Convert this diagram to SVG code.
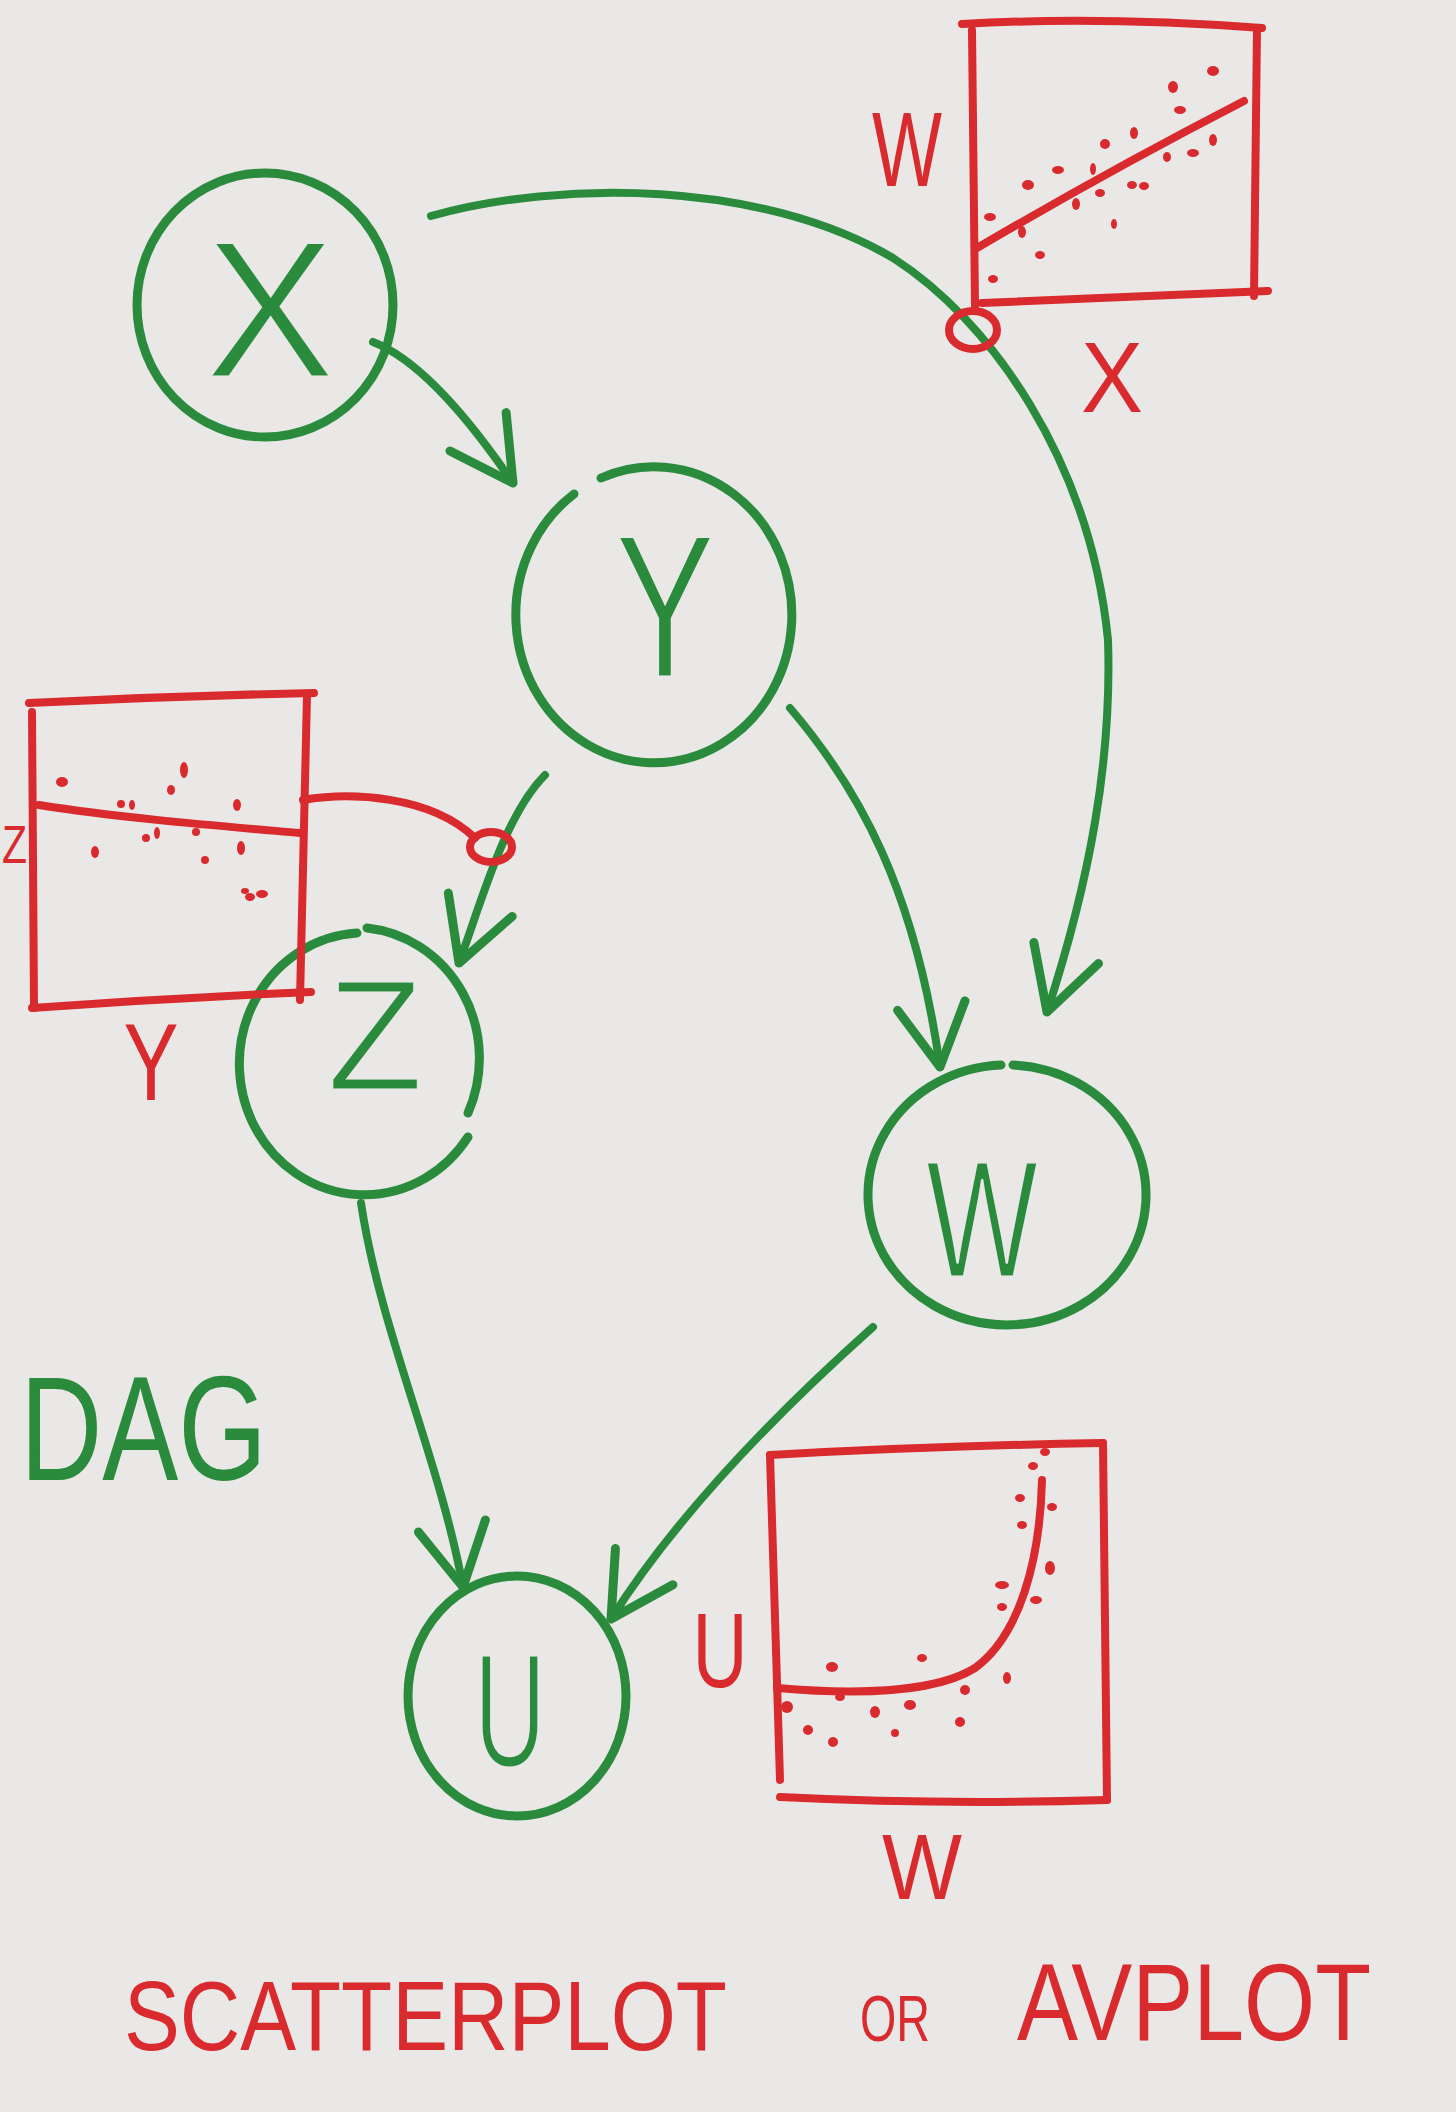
<svg xmlns="http://www.w3.org/2000/svg" width="1456" height="2112" viewBox="0 0 1456 2112">
<defs>
<style>
.g{fill:none;stroke:#2a8b3d;stroke-width:9;stroke-linecap:round;stroke-linejoin:round}
.gt{fill:#2a8b3d;stroke:#eae8e7;stroke-width:3;font-family:"Liberation Sans",Arial,sans-serif;text-anchor:middle}
.r{fill:none;stroke:#d92a2e;stroke-width:8;stroke-linecap:round;stroke-linejoin:round}
.rt{fill:#d92a2e;font-family:"Liberation Sans",Arial,sans-serif}
.d{fill:#d92a2e}
.c{fill:none;stroke:#2a8b3d;stroke-width:8;stroke-linecap:round}
</style>
<marker id="ah" markerUnits="userSpaceOnUse" markerWidth="160" markerHeight="160" refX="80" refY="80" orient="auto" viewBox="0 0 160 160" overflow="visible">
<path d="M18,46 L80,80 L18,114" fill="none" stroke="#2a8b3d" stroke-width="9" stroke-linecap="round" stroke-linejoin="round"/>
</marker>
</defs>
<rect width="1456" height="2112" fill="#eae8e7"/>

<g id="connectors">
<path class="c" d="M373,342 C420,360 470,420 513,483" marker-end="url(#ah)"/>
<path class="c" stroke-width="6" d="M431,216 C560,180 760,180 893,258 C990,320 1090,460 1108,640 C1112,760 1090,880 1047,1012" marker-end="url(#ah)"/>
<path class="c" d="M790,708 C860,790 915,890 940,1067" marker-end="url(#ah)"/>
<path class="c" d="M545,775 C505,815 482,900 459,963" marker-end="url(#ah)"/>
<path class="c" d="M361,1203 C380,1330 440,1460 463,1587" marker-end="url(#ah)"/>
<path class="c" d="M873,1327 C780,1410 680,1510 611,1619" marker-end="url(#ah)"/>
</g>

<g id="node-X">
<ellipse class="g" cx="265" cy="305" rx="128" ry="132"/>
<text class="gt" x="270" y="377" font-size="195">X</text>
</g>
<g id="node-Y">
<path class="g" d="M601,478 A138,148 0 1 1 574,494"/>
<text class="gt" x="665" y="677" font-size="205" textLength="100" lengthAdjust="spacingAndGlyphs">Y</text>
</g>
<g id="node-Z">
<path class="g" d="M367,928 A125,131 0 0 1 468,1113"/>
<path class="g" d="M468,1137 A125,131 0 1 1 357,933"/>
<text class="gt" x="375" y="1090" font-size="158">Z</text>
</g>
<g id="node-W">
<path class="g" d="M1013,1065 A139,130 0 1 1 1001,1065"/>
<text class="gt" x="982" y="1277" font-size="167" textLength="112" lengthAdjust="spacingAndGlyphs">W</text>
</g>
<g id="node-U">
<ellipse class="g" cx="517" cy="1696" rx="109" ry="120"/>
<text class="gt" x="510" y="1766" font-size="162" textLength="72" lengthAdjust="spacingAndGlyphs">U</text>
</g>

<g id="plot-WX">
<path class="r" d="M962,24 Q1100,16 1262,28"/>
<path class="r" d="M1257,28 L1254,296"/>
<path class="r" d="M982,303 Q1100,298 1268,291"/>
<path class="r" d="M972,30 L975,306"/>
<ellipse class="r" cx="973" cy="330" rx="24" ry="19"/>
<path class="r" d="M977,248 Q1110,170 1244,101"/>
<g class="d">
<ellipse cx="1213" cy="71" rx="6" ry="5"/><ellipse cx="1173" cy="87" rx="5" ry="6"/><ellipse cx="1180" cy="110" rx="6" ry="4"/>
<ellipse cx="1134" cy="133" rx="4" ry="6"/><ellipse cx="1105" cy="144" rx="5" ry="5"/><ellipse cx="1213" cy="140" rx="4" ry="6"/>
<ellipse cx="1193" cy="153" rx="6" ry="4"/><ellipse cx="1167" cy="157" rx="4" ry="5"/><ellipse cx="1058" cy="170" rx="6" ry="4"/>
<ellipse cx="1028" cy="185" rx="6" ry="5"/><ellipse cx="1132" cy="185" rx="5" ry="4"/><ellipse cx="1144" cy="186" rx="5" ry="4"/>
<ellipse cx="1100" cy="193" rx="5" ry="4"/><ellipse cx="1076" cy="204" rx="4" ry="6"/><ellipse cx="990" cy="217" rx="6" ry="4"/>
<ellipse cx="1022" cy="232" rx="4" ry="6"/><ellipse cx="1114" cy="224" rx="3" ry="5"/><ellipse cx="1040" cy="255" rx="5" ry="4"/>
<ellipse cx="993" cy="279" rx="5" ry="4"/><ellipse cx="1093" cy="169" rx="3" ry="6"/>
</g>
<text class="rt" x="907" y="186" font-size="105" text-anchor="middle" textLength="70" lengthAdjust="spacingAndGlyphs">W</text>
<text class="rt" x="1112" y="412" font-size="100" text-anchor="middle" textLength="62" lengthAdjust="spacingAndGlyphs">X</text>
</g>

<g id="plot-ZY">
<path class="r" d="M29,703 Q170,696 314,693"/>
<path class="r" d="M307,695 L300,1000"/>
<path class="r" d="M32,1008 Q170,998 311,992"/>
<path class="r" d="M32,712 L34,1008"/>
<path class="r" d="M39,805 C120,818 220,826 300,833"/>
<path class="r" d="M303,800 C350,792 430,795 475,838"/>
<ellipse class="r" cx="491" cy="847" rx="21" ry="15"/>
<g class="d">
<ellipse cx="62" cy="782" rx="6" ry="5"/><ellipse cx="184" cy="770" rx="4" ry="8"/><ellipse cx="171" cy="790" rx="4" ry="5"/>
<ellipse cx="121" cy="804" rx="4" ry="4"/><ellipse cx="132" cy="805" rx="3" ry="5"/><ellipse cx="237" cy="805" rx="4" ry="6"/>
<ellipse cx="146" cy="838" rx="4" ry="4"/><ellipse cx="157" cy="833" rx="3" ry="6"/><ellipse cx="196" cy="832" rx="4" ry="4"/>
<ellipse cx="95" cy="852" rx="4" ry="6"/><ellipse cx="241" cy="848" rx="4" ry="7"/><ellipse cx="205" cy="860" rx="4" ry="4"/>
<ellipse cx="250" cy="897" rx="5" ry="4"/><ellipse cx="262" cy="894" rx="6" ry="4"/><ellipse cx="245" cy="891" rx="4" ry="3"/>
</g>
<text class="rt" x="2" y="863" font-size="54" textLength="25" lengthAdjust="spacingAndGlyphs">Z</text>
<text class="rt" x="151" y="1100" font-size="110" text-anchor="middle" textLength="55" lengthAdjust="spacingAndGlyphs">Y</text>
</g>

<g id="plot-UW">
<path class="r" d="M770,1455 Q930,1446 1103,1443"/>
<path class="r" d="M1103,1443 L1107,1800"/>
<path class="r" d="M780,1797 Q940,1805 1107,1800"/>
<path class="r" d="M770,1455 L780,1780"/>
<path class="r" d="M777,1688 C870,1696 940,1690 975,1668 C1020,1635 1040,1560 1042,1480"/>
<g class="d">
<ellipse cx="1045" cy="1452" rx="5" ry="4"/><ellipse cx="1033" cy="1466" rx="5" ry="4"/><ellipse cx="1020" cy="1498" rx="5" ry="4"/>
<ellipse cx="1052" cy="1507" rx="5" ry="4"/><ellipse cx="1022" cy="1525" rx="5" ry="4"/><ellipse cx="1050" cy="1568" rx="5" ry="7"/>
<ellipse cx="1002" cy="1585" rx="7" ry="4"/><ellipse cx="1036" cy="1600" rx="6" ry="4"/><ellipse cx="1002" cy="1607" rx="5" ry="4"/>
<ellipse cx="922" cy="1658" rx="5" ry="4"/><ellipse cx="832" cy="1667" rx="6" ry="5"/><ellipse cx="1007" cy="1678" rx="4" ry="6"/>
<ellipse cx="965" cy="1690" rx="5" ry="5"/><ellipse cx="787" cy="1707" rx="6" ry="6"/><ellipse cx="840" cy="1697" rx="5" ry="4"/>
<ellipse cx="875" cy="1712" rx="5" ry="6"/><ellipse cx="910" cy="1705" rx="6" ry="5"/><ellipse cx="960" cy="1722" rx="5" ry="5"/>
<ellipse cx="808" cy="1730" rx="5" ry="5"/><ellipse cx="833" cy="1742" rx="5" ry="5"/><ellipse cx="895" cy="1733" rx="4" ry="4"/>
</g>
<text class="rt" x="720" y="1687" font-size="106" text-anchor="middle" textLength="55" lengthAdjust="spacingAndGlyphs">U</text>
<text class="rt" x="922" y="1899" font-size="92" text-anchor="middle" textLength="80" lengthAdjust="spacingAndGlyphs">W</text>
</g>

<g id="titles">
<text x="20" y="1480" font-size="148" fill="#2a8b3d" font-family="'Liberation Sans',Arial,sans-serif" textLength="247" lengthAdjust="spacingAndGlyphs">DAG</text>
<text class="rt" x="124" y="2050" font-size="98" textLength="603" lengthAdjust="spacingAndGlyphs">SCATTERPLOT</text>
<text class="rt" x="860" y="2041" font-size="64" textLength="70" lengthAdjust="spacingAndGlyphs">OR</text>
<text class="rt" x="1017" y="2040" font-size="110" textLength="354" lengthAdjust="spacingAndGlyphs">AVPLOT</text>
</g>
</svg>
